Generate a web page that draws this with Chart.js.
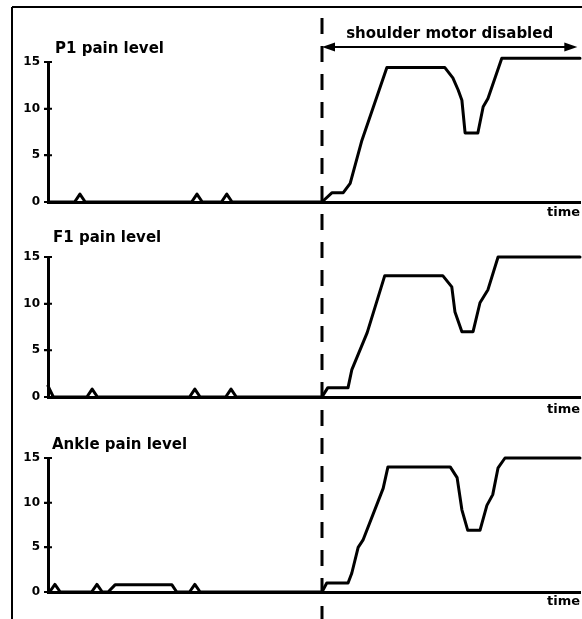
<!DOCTYPE html>
<html><head><meta charset="utf-8">
<script src="https://cdn.jsdelivr.net/npm/chart.js@4/dist/chart.umd.min.js"></script>
<style>
html,body{margin:0;padding:0;background:#fff;width:582px;height:619px;overflow:hidden;position:relative}
canvas{position:absolute;left:0}
</style></head><body>
<canvas id="c1" width="582" height="220" style="top:0px"></canvas>
<canvas id="c2" width="582" height="195" style="top:220px"></canvas>
<canvas id="c3" width="582" height="204" style="top:415px"></canvas>
<script>
// ---- data ----
const panelTitles = ['P1 pain level', 'F1 pain level', 'Ankle pain level'];
const timeLabel = 'time';
const annotationText = 'shoulder motor disabled';
const yTickValues = [0, 5, 10, 15];
const motorDisabledTime = 51.5;

const p1Time = [0, 5, 6, 7, 27, 28, 29, 32.6, 33.6, 34.6, 51.5, 53.4, 55.5, 56.8, 59.0, 63.7, 74.6, 76.1, 77.1, 77.8, 78.4, 80.8, 81.8, 82.7, 85.3, 100];
const p1Pain = [0, 0, 0.85, 0, 0, 0.85, 0, 0, 0.85, 0, 0, 1, 1, 2, 6.6, 14.4, 14.4, 13.3, 12, 10.9, 7.4, 7.4, 10.2, 11.1, 15.4, 15.4];

const f1Time = [0, 1.0, 7.3, 8.3, 9.3, 26.6, 27.6, 28.6, 33.4, 34.4, 35.4, 51.5, 52.6, 56.4, 57.1, 60.0, 63.3, 74.2, 75.9, 76.5, 77.8, 79.9, 81.2, 82.7, 84.6, 100];
const f1Pain = [1.2, 0, 0, 0.85, 0, 0, 0.85, 0, 0, 0.85, 0, 0, 1, 1, 2.9, 6.9, 13, 13, 11.8, 9.1, 7, 7, 10.1, 11.5, 15, 15];

const ankleTime = [0, 0.3, 1.3, 2.3, 8.2, 9.2, 10.2, 11.3, 12.6, 23.3, 24.2, 26.6, 27.6, 28.6, 51.5, 52.4, 56.4, 57.1, 58.3, 59.2, 63.0, 63.9, 75.6, 76.9, 77.8, 78.9, 81.2, 82.5, 83.6, 84.6, 85.9, 100];
const anklePain = [0, 0, 0.85, 0, 0, 0.85, 0, 0, 0.8, 0.8, 0, 0, 0.85, 0, 0, 1, 1, 2.1, 5, 5.8, 11.6, 14, 14, 12.8, 9.2, 6.9, 6.9, 9.7, 10.9, 13.9, 15, 15];

// ---- drawing ----
const toPoints = (ts, vs) => ts.map((t, i) => ({x: t, y: vs[i]}));

function decor(cfg) {
  return {
    id: 'decor' + cfg.idx,
    afterDraw(chart) {
      const ctx = chart.ctx, xs = chart.scales.x, ys = chart.scales.y, ca = chart.chartArea, H = chart.height;
      ctx.save();
      ctx.strokeStyle = '#000'; ctx.fillStyle = '#000';
      // outer frame
      ctx.lineWidth = 2; ctx.setLineDash([]);
      ctx.beginPath();
      ctx.moveTo(12, cfg.first ? 7 : 0); ctx.lineTo(12, H);
      if (cfg.first) { ctx.moveTo(12, 7); ctx.lineTo(chart.width, 7); }
      ctx.stroke();
      // tick marks crossing the y axis
      ctx.lineWidth = 2;
      ctx.beginPath();
      yTickValues.forEach(v => { const y = ys.getPixelForValue(v); ctx.moveTo(ca.left - 4, y); ctx.lineTo(ca.left + 4, y); });
      ctx.stroke();
      // dashed line
      const dx = Math.round(xs.getPixelForValue(motorDisabledTime));
      ctx.lineWidth = 3; ctx.setLineDash([16, 12]);
      ctx.lineDashOffset = cfg.first ? 0 : (cfg.top - 18);
      ctx.beginPath(); ctx.moveTo(dx, cfg.first ? 18 : 0); ctx.lineTo(dx, H); ctx.stroke();
      ctx.setLineDash([]);
      // panel title
      ctx.font = 'bold 15px "DejaVu Sans"'; ctx.textAlign = 'left'; ctx.textBaseline = 'alphabetic';
      ctx.fillText(cfg.title, cfg.titleX, cfg.titleY);
      // time label
      ctx.font = 'bold 13px "DejaVu Sans"'; ctx.textAlign = 'right';
      ctx.fillText(timeLabel, ca.right, cfg.timeY);
      if (cfg.first) {
        const xe = xs.getPixelForValue(99.5), ay = 47;
        ctx.lineWidth = 2;
        ctx.beginPath(); ctx.moveTo(dx + 8, ay); ctx.lineTo(xe - 8, ay); ctx.stroke();
        ctx.beginPath(); ctx.moveTo(dx, ay); ctx.lineTo(dx + 13, ay - 4.5); ctx.lineTo(dx + 13, ay + 4.5); ctx.closePath(); ctx.fill();
        ctx.beginPath(); ctx.moveTo(xe, ay); ctx.lineTo(xe - 13, ay - 4.5); ctx.lineTo(xe - 13, ay + 4.5); ctx.closePath(); ctx.fill();
        ctx.font = 'bold 15px "DejaVu Sans"'; ctx.textAlign = 'center';
        ctx.fillText(annotationText, (dx + xe) / 2, 38);
      }
      ctx.restore();
    }
  };
}

function makeChart(id, pts, cfg) {
  return new Chart(document.getElementById(id), {
    type: 'line',
    data: { datasets: [{ data: pts, borderColor: '#000', borderWidth: 3, pointRadius: 0, tension: 0, fill: false, clip: 12, borderJoinStyle: 'round', borderCapStyle: 'round' }] },
    options: {
      responsive: false, animation: false, devicePixelRatio: 1, events: [],
      plugins: { legend: { display: false }, tooltip: { enabled: false }, title: { display: false } },
      layout: { padding: { top: cfg.padTop, bottom: cfg.padBottom, left: 0, right: 2 } },
      scales: {
        x: { type: 'linear', min: 0, max: 100,
             ticks: { display: false },
             grid: { display: true, drawOnChartArea: false, drawTicks: false },
             border: { display: true, color: '#000', width: 3 },
             afterFit: s => { s.height = 0; } },
        y: { type: 'linear', min: 0, max: 15,
             afterBuildTicks: s => { s.ticks = yTickValues.map(v => ({ value: v })); },
             ticks: { color: '#000', padding: 4, font: { family: 'DejaVu Sans', weight: 'bold', size: 12 } },
             grid: { display: true, drawOnChartArea: false, drawTicks: true, tickLength: 4, color: '#000', lineWidth: 2 },
             border: { display: true, color: '#000', width: 3 },
             afterFit: s => { s.width = 48; } }
      }
    },
    plugins: [decor(cfg)]
  });
}

makeChart('c1', toPoints(p1Time, p1Pain), { idx: 1, first: true, top: 0, padTop: 62, padBottom: 18, title: panelTitles[0], titleX: 55, titleY: 53, timeY: 216 });
makeChart('c2', toPoints(f1Time, f1Pain), { idx: 2, first: false, top: 220, padTop: 37, padBottom: 18, title: panelTitles[1], titleX: 53, titleY: 22, timeY: 193 });
makeChart('c3', toPoints(ankleTime, anklePain), { idx: 3, first: false, top: 415, padTop: 43, padBottom: 27, title: panelTitles[2], titleX: 52, titleY: 34, timeY: 190 });
</script>
</body></html>
